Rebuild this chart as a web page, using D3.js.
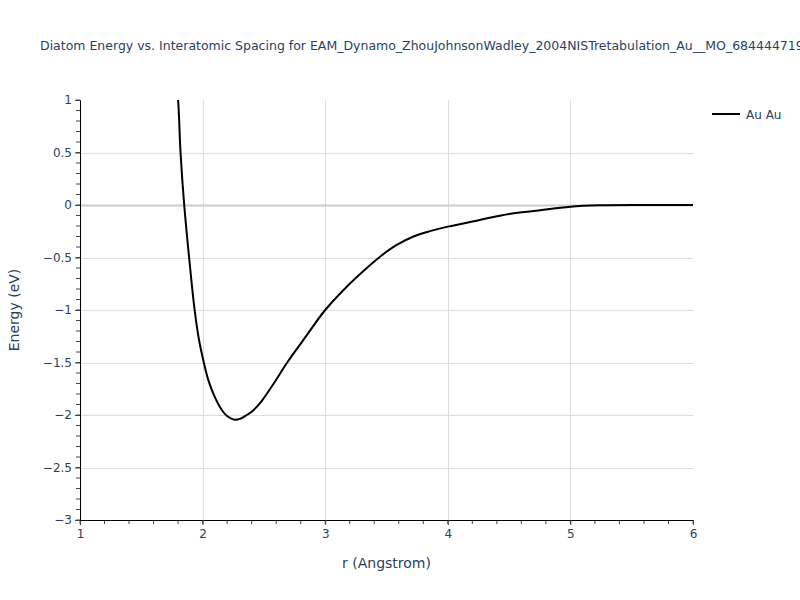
<!DOCTYPE html>
<html>
<head>
<meta charset="utf-8">
<script src="https://cdn.jsdelivr.net/npm/d3@7"></script>
<style>
  body { margin: 0; background: #fff; }
  text { font-family: "DejaVu Sans", Verdana, sans-serif; fill: #2a3f5f; }
</style>
</head>
<body>
<svg id="chart" width="800" height="600"></svg>
<script>
"use strict";

var titleText = "Diatom Energy vs. Interatomic Spacing for EAM_Dynamo_ZhouJohnsonWadley_2004NISTretabulation_Au__MO_684444719999_000";
var seriesName = "Au Au";

// distance (Angstrom) and energy (eV)
var rValues = [1.78, 1.80, 1.82, 1.85, 1.89, 1.935, 1.97, 2.01, 2.05, 2.10, 2.15, 2.20, 2.26, 2.31, 2.36, 2.40, 2.48, 2.58, 2.69, 2.85, 3.0, 3.2, 3.31, 3.45, 3.58, 3.72, 3.855, 4.0, 4.26, 4.5, 4.7, 5.0, 5.24, 5.6, 6.0];
var energies = [1.2, 1.0, 0.5, 0.0, -0.5, -1.0, -1.28, -1.5, -1.68, -1.83, -1.94, -2.01, -2.045, -2.035, -2.0, -1.97, -1.87, -1.70, -1.5, -1.24, -1.0, -0.75, -0.63, -0.49, -0.383, -0.30, -0.249, -0.206, -0.143, -0.085, -0.058, -0.016, -0.003, 0.0, 0.0];

var xTicks = [1, 2, 3, 4, 5, 6];
var yTicks = [1, 0.5, 0, -0.5, -1, -1.5, -2, -2.5, -3];

var data = rValues.map(function(r, i) { return {r: r, e: energies[i]}; });

var svg = d3.select("#chart"),
    margin = {top: 100, right: 107, bottom: 80, left: 80},
    width = 800 - margin.left - margin.right,
    height = 600 - margin.top - margin.bottom,
    g = svg.append("g").attr("transform", "translate(" + margin.left + "," + margin.top + ")");

var x = d3.scaleLinear().domain([1, 6]).range([0, width]);
var y = d3.scaleLinear().domain([-3, 1]).range([height, 0]);

svg.append("text")
    .attr("x", 40)
    .attr("y", 50)
    .style("font-size", "12.5px")
    .text(titleText);

// grid
g.append("g").selectAll("line")
    .data(xTicks.filter(function(d) { return d > 1 && d < 6; }))
  .enter().append("line")
    .attr("x1", function(d) { return Math.round(x(d)) + 0.5; })
    .attr("x2", function(d) { return Math.round(x(d)) + 0.5; })
    .attr("y1", 0).attr("y2", height)
    .attr("stroke", "#dddddd").attr("stroke-width", 1);

g.append("g").selectAll("line")
    .data(yTicks.filter(function(d) { return d > -3 && d < 1; }))
  .enter().append("line")
    .attr("x1", 0).attr("x2", width)
    .attr("y1", function(d) { return Math.round(y(d)) + 0.5; })
    .attr("y2", function(d) { return Math.round(y(d)) + 0.5; })
    .attr("stroke", function(d) { return d === 0 ? "#cccccc" : "#dddddd"; })
    .attr("stroke-width", function(d) { return d === 0 ? 2 : 1; });

// minor ticks
g.append("g").selectAll("line")
    .data(d3.range(1, 6.001, 0.2))
  .enter().append("line")
    .attr("x1", function(d) { return x(d); })
    .attr("x2", function(d) { return x(d); })
    .attr("y1", height).attr("y2", height + 4)
    .attr("stroke", "#444").attr("stroke-width", 1);

g.append("g").selectAll("line")
    .data(d3.range(-3, 1.001, 0.1))
  .enter().append("line")
    .attr("x1", -4).attr("x2", 0)
    .attr("y1", function(d) { return y(d); })
    .attr("y2", function(d) { return y(d); })
    .attr("stroke", "#444").attr("stroke-width", 1);

var xAxis = d3.axisBottom(x).tickValues(xTicks).tickSize(5).tickPadding(4)
    .tickFormat(d3.format("d"));
var yAxis = d3.axisLeft(y).tickValues(yTicks).tickSize(5).tickPadding(3)
    .tickFormat(function(d) { return d3.format("")(d).replace("-", "\u2212"); });

g.append("g")
    .attr("transform", "translate(0," + height + ")")
    .call(xAxis)
    .call(function(s) {
      s.select(".domain").attr("stroke", "#000");
      s.selectAll(".tick line").attr("stroke", "#444");
      s.selectAll(".tick text").style("font-size", "12px").attr("fill", "#2a3f5f");
    });

g.append("g")
    .call(yAxis)
    .call(function(s) {
      s.select(".domain").attr("stroke", "#000");
      s.selectAll(".tick line").attr("stroke", "#444");
      s.selectAll(".tick text").style("font-size", "12px").attr("fill", "#2a3f5f");
    });

svg.append("text")
    .attr("x", margin.left + width / 2)
    .attr("y", 568)
    .attr("text-anchor", "middle")
    .style("font-size", "14px")
    .text("r (Angstrom)");

svg.append("text")
    .attr("transform", "translate(19," + (margin.top + height / 2) + ") rotate(-90)")
    .attr("text-anchor", "middle")
    .style("font-size", "14px")
    .text("Energy (eV)");

svg.append("clipPath").attr("id", "clip")
  .append("rect").attr("width", width).attr("height", height);

var line = d3.line()
    .x(function(d) { return x(d.r); })
    .y(function(d) { return y(d.e); })
    .curve(d3.curveCatmullRom.alpha(0.5));

g.append("path")
    .datum(data)
    .attr("clip-path", "url(#clip)")
    .attr("fill", "none")
    .attr("stroke", "#000")
    .attr("stroke-width", 2)
    .attr("stroke-linejoin", "round")
    .attr("d", line);

// legend
var legend = svg.append("g").attr("transform", "translate(712,114)");
legend.append("line")
    .attr("x1", 0).attr("x2", 28).attr("y1", 0).attr("y2", 0)
    .attr("stroke", "#000").attr("stroke-width", 2);
legend.append("text")
    .attr("x", 34).attr("y", 4.5)
    .style("font-size", "12px")
    .text(seriesName);
</script>
</body>
</html>
